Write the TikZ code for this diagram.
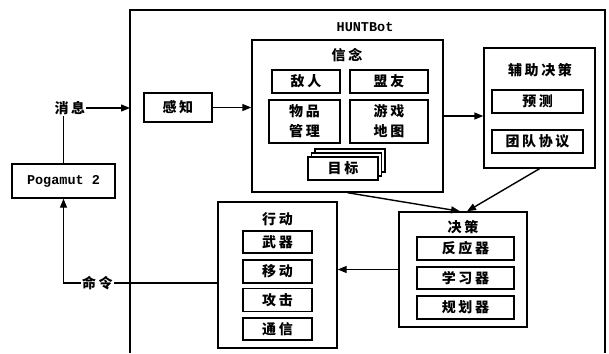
\documentclass[tikz,border=0pt]{standalone}
\usepackage{fontspec}
\newfontfamily\cjk[LetterSpace=18]{Noto Sans CJK SC}
\newfontfamily\monob{Liberation Mono Bold}
\usetikzlibrary{arrows.meta,positioning}
\tikzset{
  box/.style={draw, line width=1.4pt, rectangle, inner sep=0pt, font=\cjk\bfseries\fontsize{14}{16}\selectfont, align=center},
  lbl/.style={inner sep=1pt, font=\cjk\bfseries\fontsize{14}{16}\selectfont},
  conn/.style={line width=1.4pt},
  arr/.style={line width=1.4pt, -{Triangle[length=9pt,width=7pt]}}
}
\begin{document}
\begin{tikzpicture}[x=1pt,y=-1pt]
\useasboundingbox (0,0) rectangle (609,353);
% outer HUNTBot frame (open at the bottom)
\draw[conn] (130,353) -- (130,10) -- (605,10) -- (605,353);
\coordinate (huntin) at (130,108);
\node[inner sep=0pt, font=\monob\fontsize{13.5}{15}\selectfont] (hunt) at (365,27) {HUNTBot};
% belief
\node[box, minimum width=191pt, minimum height=152pt] (belief) at (347.5,116) {};
\node[lbl] (beliefT) at (347,55) {信念};
\node[box, minimum width=68pt, minimum height=23pt] (enemy) at (306,81.5) {敌人};
\node[box, minimum width=78pt, minimum height=23pt] (ally) at (389,81.5) {盟友};
\node[box, minimum width=71pt, minimum height=43pt, font=\cjk\bfseries\fontsize{14}{20}\selectfont] (item) at (304.5,121.5) {物品\\管理};
\node[box, minimum width=78pt, minimum height=43pt, font=\cjk\bfseries\fontsize{14}{20}\selectfont] (map) at (389,121.5) {游戏\\地图};
\node[box, fill=white, minimum width=70pt, minimum height=23pt] (goal3) at (350,160.5) {};
\node[box, fill=white, minimum width=70pt, minimum height=23pt] (goal2) at (346.5,164.5) {};
\node[box, fill=white, minimum width=70pt, minimum height=23pt] (goal) at (343,168.5) {目标};
% perception
\node[box, minimum width=68pt, minimum height=29pt] (perceive) at (178,107.5) {感知};
% pogamut
\node[lbl] (msg) at (70,108) {消息};
\node[box, minimum width=103pt, minimum height=34pt, font=\monob\fontsize{13.5}{15}\selectfont] (pog) at (63.5,181) {Pogamut 2};
\node[lbl] (cmd) at (97.5,283) {命令};
% action
\node[box, minimum width=119pt, minimum height=146pt] (action) at (277.5,275) {};
\node[lbl] (actionT) at (277.5,219) {行动};
\node[box, minimum width=69pt, minimum height=22pt] (weapon) at (277.5,242) {武器};
\node[box, minimum width=69pt, minimum height=23pt] (move) at (277.5,271.5) {移动};
\node[box, minimum width=69pt, minimum height=23pt] (attack) at (277.5,300) {攻击};
\node[box, minimum width=69pt, minimum height=22pt] (comm) at (277.5,329) {通信};
% decision
\node[box, minimum width=128pt, minimum height=115pt] (decision) at (463,269.5) {};
\node[lbl] (decisionT) at (463,227) {决策};
\node[box, minimum width=97pt, minimum height=23pt] (react) at (465.5,248.5) {反应器};
\node[box, minimum width=97pt, minimum height=22pt] (learn) at (465.5,278) {学习器};
\node[box, minimum width=97pt, minimum height=23pt] (plan) at (465.5,307.5) {规划器};
% auxiliary decision
\node[box, minimum width=111pt, minimum height=120pt] (aux) at (539.5,108) {};
\node[lbl] (auxT) at (540,70) {辅助决策};
\node[box, minimum width=91pt, minimum height=23pt] (predict) at (537.5,101.5) {预测};
\node[box, minimum width=91pt, minimum height=23pt] (team) at (537.5,141.5) {团队协议};
% connectors
\draw[arr] (msg.east) -- (huntin);
\draw[conn] (pog.north) -- (pog.north |- msg.south);
\draw[arr] (perceive.east) -- (perceive.east -| belief.west);
\draw[arr] (belief.east) -- (belief.east -| aux.west);
\draw[arr] (aux.south) -- ([xshift=4pt]decision.north);
\draw[arr] (belief.south) -- ([xshift=-3pt]decision.north);
\draw[arr] (decision.west) -- (decision.west -| action.east);
\draw[conn] (action.west |- cmd.east) -- (cmd.east);
\draw[arr] (cmd.west) -| (pog.south);
\end{tikzpicture}
\end{document}
